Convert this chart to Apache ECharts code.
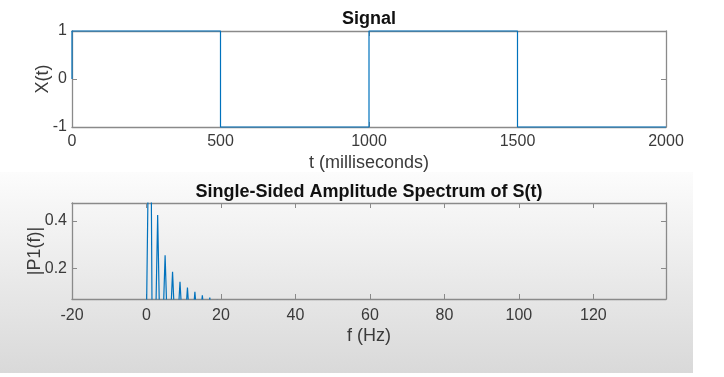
<!DOCTYPE html>
<html>
<head>
<meta charset="utf-8">
<script src="https://cdn.jsdelivr.net/npm/echarts@6/dist/echarts.min.js"></script>
<style>
  html, body { margin: 0; padding: 0; background: #fff; }
  #main { width: 724px; height: 377px; }
</style>
</head>
<body>
<div id="main"></div>
<script>
// top plot: square wave (ms, amplitude)
const tMs = [0, 0, 500, 500, 1000, 1000, 1500, 1500, 2000];
const xt = [0, 1, 1, -1, -1, 1, 1, -1, -1];

// bottom plot: single-sided spectrum (Hz, |P1|)
const freqHz = [0, 0.5, 1, 1.5, 2.5, 3, 3.5, 4.5, 5, 5.5, 6.5, 7, 7.5, 8.5, 9, 9.5,
  10.5, 11, 11.5, 12.5, 13, 13.5, 14.5, 15, 15.5, 16.5, 17, 17.5, 18.5, 19, 19.5, 139];
const p1 = [0, 0, 1.27, 0, 0, 0.425, 0, 0, 0.255, 0, 0, 0.185, 0, 0, 0.143, 0,
  0, 0.118, 0, 0, 0.1, 0, 0, 0.086, 0, 0, 0.076, 0, 0, 0.067, 0, 0];

const yTicksBottom = [0.2, 0.4];

const FONT = "Liberation Sans";
const boxColor = "#8a8a8a";
const textColor = "#3a3a3a";
const lineColor = "#0072BD";

const chart = echarts.init(document.getElementById("main"));

function boxAxis(extra) {
  return Object.assign({
    type: "value",
    nameMoveOverlap: false,
    axisLine: { show: true, onZero: false, lineStyle: { color: boxColor, width: 1.3 } },
    axisTick: { show: true, inside: true, length: 5, lineStyle: { color: boxColor } },
    splitLine: { show: false },
    axisLabel: { show: false }
  }, extra);
}

const plain = v => String(v);
const labelStyle = { show: true, color: textColor, fontFamily: FONT, fontSize: 16, formatter: plain };
const nameStyle = { color: textColor, fontFamily: FONT, fontSize: 18 };

const option = {
  animation: false,
  backgroundColor: "#ffffff",
  graphic: [{
    type: "rect",
    z: -100,
    shape: { x: 0, y: 172, width: 693, height: 201 },
    style: {
      fill: new echarts.graphic.LinearGradient(0, 0, 0, 1, [
        { offset: 0, color: "#fcfcfc" },
        { offset: 1, color: "#d9d9d9" }
      ])
    }
  }],
  title: [
    { text: "Signal", left: 364, top: 5, textAlign: "center",
      textStyle: { fontFamily: FONT, fontSize: 18, fontWeight: "bold", color: "#111" } },
    { text: "Single-Sided Amplitude Spectrum of S(t)", left: 364, top: 178, textAlign: "center",
      textStyle: { fontFamily: FONT, fontSize: 18, fontWeight: "bold", color: "#111" } }
  ],
  grid: [
    { left: 72, right: 58, top: 31, height: 96 },
    { left: 72, right: 58, top: 203, height: 96 }
  ],
  xAxis: [
    boxAxis({ gridIndex: 0, position: "bottom", min: 0, max: 2000, interval: 500,
      axisLabel: Object.assign({}, labelStyle, { margin: 7 }),
      name: "t (milliseconds)", nameLocation: "middle", nameGap: 27, nameTextStyle: nameStyle }),
    boxAxis({ gridIndex: 0, position: "top", min: 0, max: 2000, interval: 500 }),
    boxAxis({ gridIndex: 1, position: "bottom", min: -20, max: 139.5, interval: 20,
      axisLabel: Object.assign({}, labelStyle, { margin: 9, showMaxLabel: false }),
      name: "f (Hz)", nameLocation: "middle", nameGap: 28, nameTextStyle: nameStyle }),
    boxAxis({ gridIndex: 1, position: "top", min: -20, max: 139.5, interval: 20 })
  ],
  yAxis: [
    boxAxis({ gridIndex: 0, position: "left", min: -1, max: 1, interval: 1,
      axisLabel: Object.assign({}, labelStyle, { margin: 5 }),
      name: "X(t)", nameLocation: "middle", nameGap: 20, nameTextStyle: nameStyle }),
    boxAxis({ gridIndex: 0, position: "right", min: -1, max: 1, interval: 1 }),
    boxAxis({ gridIndex: 1, position: "left", min: 0.07, max: 0.476,
      axisTick: { show: true, inside: true, length: 5, customValues: yTicksBottom, lineStyle: { color: boxColor } },
      axisLabel: Object.assign({}, labelStyle, { margin: 5, customValues: yTicksBottom }),
      name: "|P1(f)|", nameLocation: "middle", nameGap: 28, nameTextStyle: nameStyle }),
    boxAxis({ gridIndex: 1, position: "right", min: 0.07, max: 0.476,
      axisTick: { show: true, inside: true, length: 5, customValues: yTicksBottom, lineStyle: { color: boxColor } } })
  ],
  series: [
    {
      type: "line", xAxisIndex: 0, yAxisIndex: 0, z: 1,
      data: tMs.map((t, i) => [t, xt[i]]),
      showSymbol: false, symbol: "none", clip: false,
      lineStyle: { color: lineColor, width: 1.2 }
    },
    {
      type: "line", xAxisIndex: 2, yAxisIndex: 2, z: 1,
      data: freqHz.map((f, i) => [f, p1[i]]),
      showSymbol: false, symbol: "none", clip: true,
      lineStyle: { color: lineColor, width: 1.2 }
    }
  ]
};

chart.setOption(option);
</script>
</body>
</html>
